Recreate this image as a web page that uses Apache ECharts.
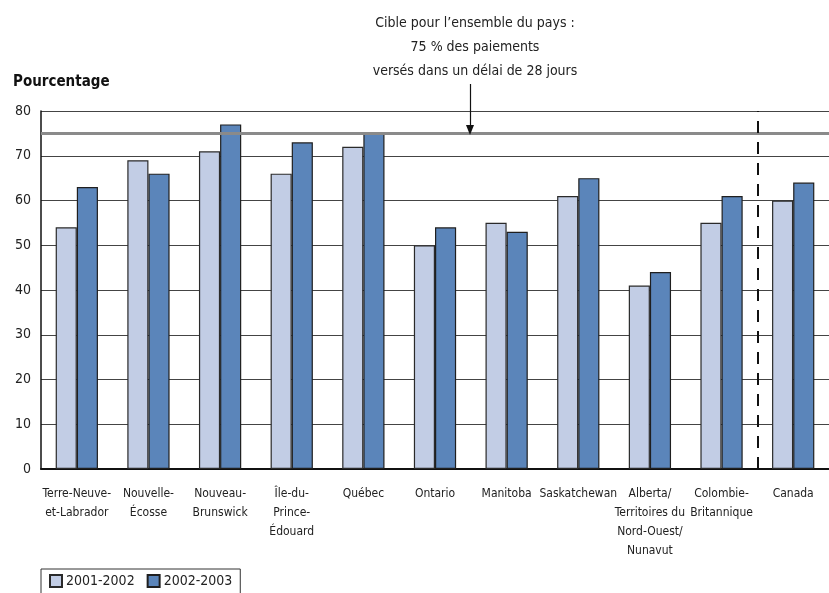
<!DOCTYPE html>
<html>
<head>
<meta charset="utf-8">
<script src="https://cdn.jsdelivr.net/npm/echarts@6/dist/echarts.min.js"></script>
<style>
  html, body { margin: 0; padding: 0; background: #fff; }
  #chart { width: 829px; height: 593px; }
</style>
</head>
<body>
<div id="chart"></div>
<script>
var categories = [
  "Terre-Neuve-\net-Labrador", "Nouvelle-\nÉcosse", "Nouveau-\nBrunswick",
  "Île-du-\nPrince-\nÉdouard", "Québec", "Ontario", "Manitoba", "Saskatchewan",
  "Alberta/\nTerritoires du\nNord-Ouest/\nNunavut", "Colombie-\nBritannique", "Canada"
];
var values2001 = [54, 69, 71, 66, 72, 50, 55, 61, 41, 55, 60];
var values2002 = [63, 66, 77, 73, 75, 54, 53, 65, 44, 61, 64];
var yTicks = [0, 10, 20, 30, 40, 50, 60, 70, 80];
var target = 75;

var font = '"Liberation Sans Narrow", "DejaVu Sans Condensed", "Noto Sans", sans-serif';
var chart = echarts.init(document.getElementById("chart"));

chart.setOption({
  backgroundColor: "#fff",
  animation: false,
  textStyle: { fontFamily: font },
  title: [
    {
      // annotation above the target line
      text: "Cible pour l’ensemble du pays :\n75 % des paiements\nversés dans un délai de 28 jours",
      left: 470,
      top: 6,
      textAlign: "center",
      textStyle: { fontFamily: font, fontSize: 14, fontWeight: 400, color: "#222", lineHeight: 24, align: "center" }
    },
    {
      text: "Pourcentage",
      left: 8,
      top: 70,
      textStyle: { fontFamily: font, fontSize: 15, fontWeight: "bold", color: "#111" }
    }
  ],
  legend: {
    left: 41,
    top: 569,
    padding: [5, 8, 8, 8],
    borderColor: "#333",
    borderWidth: 1,
    itemWidth: 12,
    itemHeight: 12,
    itemGap: 12,
    icon: "rect",
    data: ["2001-2002", "2002-2003"],
    textStyle: { fontFamily: font, fontSize: 14, color: "#222", padding: [0, 0, 0, -1] }
  },
  grid: { left: 41, right: -11, top: 111, bottom: 124 },
  xAxis: [
    {
      type: "category",
      data: categories,
      axisLine: { lineStyle: { color: "#111", width: 2 } },
      axisTick: { alignWithLabel: true, length: 6, lineStyle: { color: "#222" } },
      axisLabel: {
        interval: 0,
        margin: 15,
        fontFamily: font,
        fontSize: 12,
        lineHeight: 19,
        color: "#222"
      }
    },
    {
      type: "value",
      min: 0,
      max: categories.length,
      show: false
    }
  ],
  yAxis: {
    type: "value",
    min: yTicks[0],
    max: yTicks[yTicks.length - 1],
    interval: 10,
    axisLine: { show: true, lineStyle: { color: "#111", width: 1.5 } },
    axisTick: { show: false },
    axisLabel: { margin: 10, fontFamily: font, fontSize: 14, color: "#222" },
    splitLine: { lineStyle: { color: "#444", width: 1 } }
  },
  series: [
    {
      name: "2001-2002",
      type: "bar",
      data: values2001,
      barGap: "0%",
      barCategoryGap: "41%",
      z: 3,
      itemStyle: { color: "#C2CDE5", borderColor: "#2a2a2a", borderWidth: 1.2 }
    },
    {
      name: "2002-2003",
      type: "bar",
      data: values2002,
      z: 3,
      itemStyle: { color: "#5B85BA", borderColor: "#1f1f1f", borderWidth: 1.2 }
    },
    {
      // target line, separator before Canada and the annotation arrow
      type: "line",
      xAxisIndex: 1,
      data: [],
      z: 1,
      markLine: {
        silent: true,
        symbol: "none",
        label: { show: false },
        data: [
          { yAxis: target, lineStyle: { color: "#8a8a8a", width: 3, type: "solid" } },
          { xAxis: categories.length - 1, lineStyle: { color: "#111", width: 2, type: [12, 9] } },
          [
            { x: 470, y: 84, symbol: "none", lineStyle: { color: "#111", width: 1.2, type: "solid" } },
            { x: 470, y: 130, symbol: "triangle", symbolSize: [8, 10], symbolRotate: 180 }
          ]
        ]
      }
    }
  ]
});
</script>
</body>
</html>
